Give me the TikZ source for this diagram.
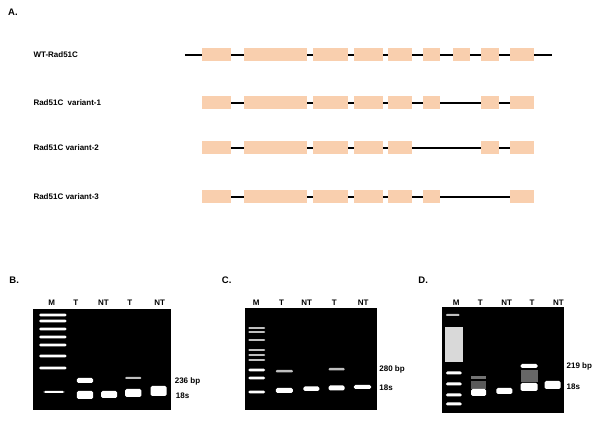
\documentclass[tikz,border=0pt]{standalone}
\usepackage{fontspec}
\setmainfont{Liberation Sans}
\begin{document}
\begin{tikzpicture}[x=1pt,y=-1pt,
  lbl/.style={font=\fontsize{8}{9}\selectfont\bfseries,inner sep=0pt},
  plbl/.style={font=\fontsize{9.5}{10}\selectfont\bfseries,inner sep=0pt,anchor=west},
  exon/.style={fill=exonc,draw=none},
  intron/.style={line width=1.8pt,black},
  band/.style={fill=white,draw=none,rounded corners=1.5pt},
  fband/.style={fill=white!75!black,draw=none,rounded corners=1pt},
  gel/.style={fill=black,draw=none}]
\definecolor{exonc}{HTML}{F9CFAE}
\useasboundingbox (0,0) rectangle (600,435);
\fill[white] (0,0) rectangle (600,435);
\begin{scope}[x=1.149pt,y=-1pt]
\node[plbl] (A) at (7,12) {A.};
\def\exons{176/201,212/267,272/303,308/333,338/359,368/383,394/409,419/434,444/465}
\node[lbl,anchor=west] (l0) at (29,55) {WT-Rad51C};
\draw[intron] (161,55) -- (480,55);
\foreach \a/\b in \exons {\fill[exon] (\a,48.5) rectangle (\b,61.5);}
\node[lbl,anchor=west] (l1) at (29,103) {Rad51C\ \ variant-1};
\draw[intron] (201,103) -- (444,103);
\foreach \a/\b in {176/201,212/267,272/303,308/333,338/359,368/383,419/434,444/465} {\fill[exon] (\a,96.5) rectangle (\b,109.5);}
\node[lbl,anchor=west] (l2) at (29,148) {Rad51C variant-2};
\draw[intron] (201,148) -- (444,148);
\foreach \a/\b in {176/201,212/267,272/303,308/333,338/359,419/434,444/465} {\fill[exon] (\a,141.5) rectangle (\b,154.5);}
\node[lbl,anchor=west] (l3) at (29,197) {Rad51C variant-3};
\draw[intron] (201,197) -- (444,197);
\foreach \a/\b in {176/201,212/267,272/303,308/333,338/359,368/383,444/465} {\fill[exon] (\a,190.5) rectangle (\b,203.5);}
\end{scope}
\begin{scope}[x=1.149pt,y=-1pt]
% panel B
\node[plbl] (B) at (8,280) {B.};
\fill[gel] (29,309) rectangle (149,410);
\foreach \x/\t in {45/M,66/T,90/NT,113/T,139/NT} {\node[lbl] at (\x,303) {\t};}
\foreach \y in {315,321,329,337,345,356,368} {\fill[band] (34,\y-1.4) rectangle (58,\y+1.4);}
\fill[band] (38,391) rectangle (56,393);
\fill[band] (67,378) rectangle (81,383);
\fill[band] (67,391) rectangle (81,399);
\fill[band] (88,391) rectangle (102,398);
\fill[fband] (109,377) rectangle (123,379);
\fill[band] (109,389) rectangle (123,397);
\fill[band] (131,386) rectangle (145,396);
\node[lbl,anchor=west] (b1) at (152,381) {236 bp};
\node[lbl,anchor=west] (b2) at (153,396) {18s};
% panel C
\node[plbl] (C) at (193,280) {C.};
\fill[gel] (213,308) rectangle (328,410);
\foreach \x/\t in {223/M,245/T,267/NT,291/T,316/NT} {\node[lbl] at (\x,303) {\t};}
\foreach \y in {328,332,340,350,355,360} {\fill[fband] (216,\y-0.8) rectangle (231,\y+0.8);}
\foreach \y in {370,378,392} {\fill[band] (216,\y-1.3) rectangle (231,\y+1.3);}
\fill[fband] (240,370) rectangle (255,372.5);
\fill[band] (240,388) rectangle (255,393);
\fill[band] (264,386.5) rectangle (278,391);
\fill[fband] (286,368) rectangle (300,370.5);
\fill[band] (286,385.5) rectangle (300,390.5);
\fill[band] (308,385) rectangle (323,389);
\node[lbl,anchor=west] (c1) at (330,369) {280 bp};
\node[lbl,anchor=west] (c2) at (330,388) {18s};
% panel D
\node[plbl] (D) at (364,280) {D.};
\fill[gel] (385,307) rectangle (491,413);
\foreach \x/\t in {397/M,418/T,441/NT,463/T,486/NT} {\node[lbl] at (\x,303) {\t};}
\fill[fband] (388,314) rectangle (400,316);
\fill[white!85!black] (387,327) rectangle (403,362);
\foreach \y in {373,384,395,404} {\fill[band] (388,\y-1.5) rectangle (402,\y+1.5);}
\fill[black!55!white] (410,376.5) rectangle (423,379);
\fill[black!65!white] (410,381) rectangle (423,389);
\fill[band] (410,389) rectangle (423,396);
\fill[band] (432,388) rectangle (446,394);
\fill[black!60!white] (453,370) rectangle (468,382);
\fill[band] (453,364) rectangle (468,368);
\fill[band] (453,383) rectangle (468,391);
\fill[band] (474,381) rectangle (488,389);
\node[lbl,anchor=west] (d1) at (493,366) {219 bp};
\node[lbl,anchor=west] (d2) at (493,387) {18s};
\end{scope}
\end{tikzpicture}
\end{document}
